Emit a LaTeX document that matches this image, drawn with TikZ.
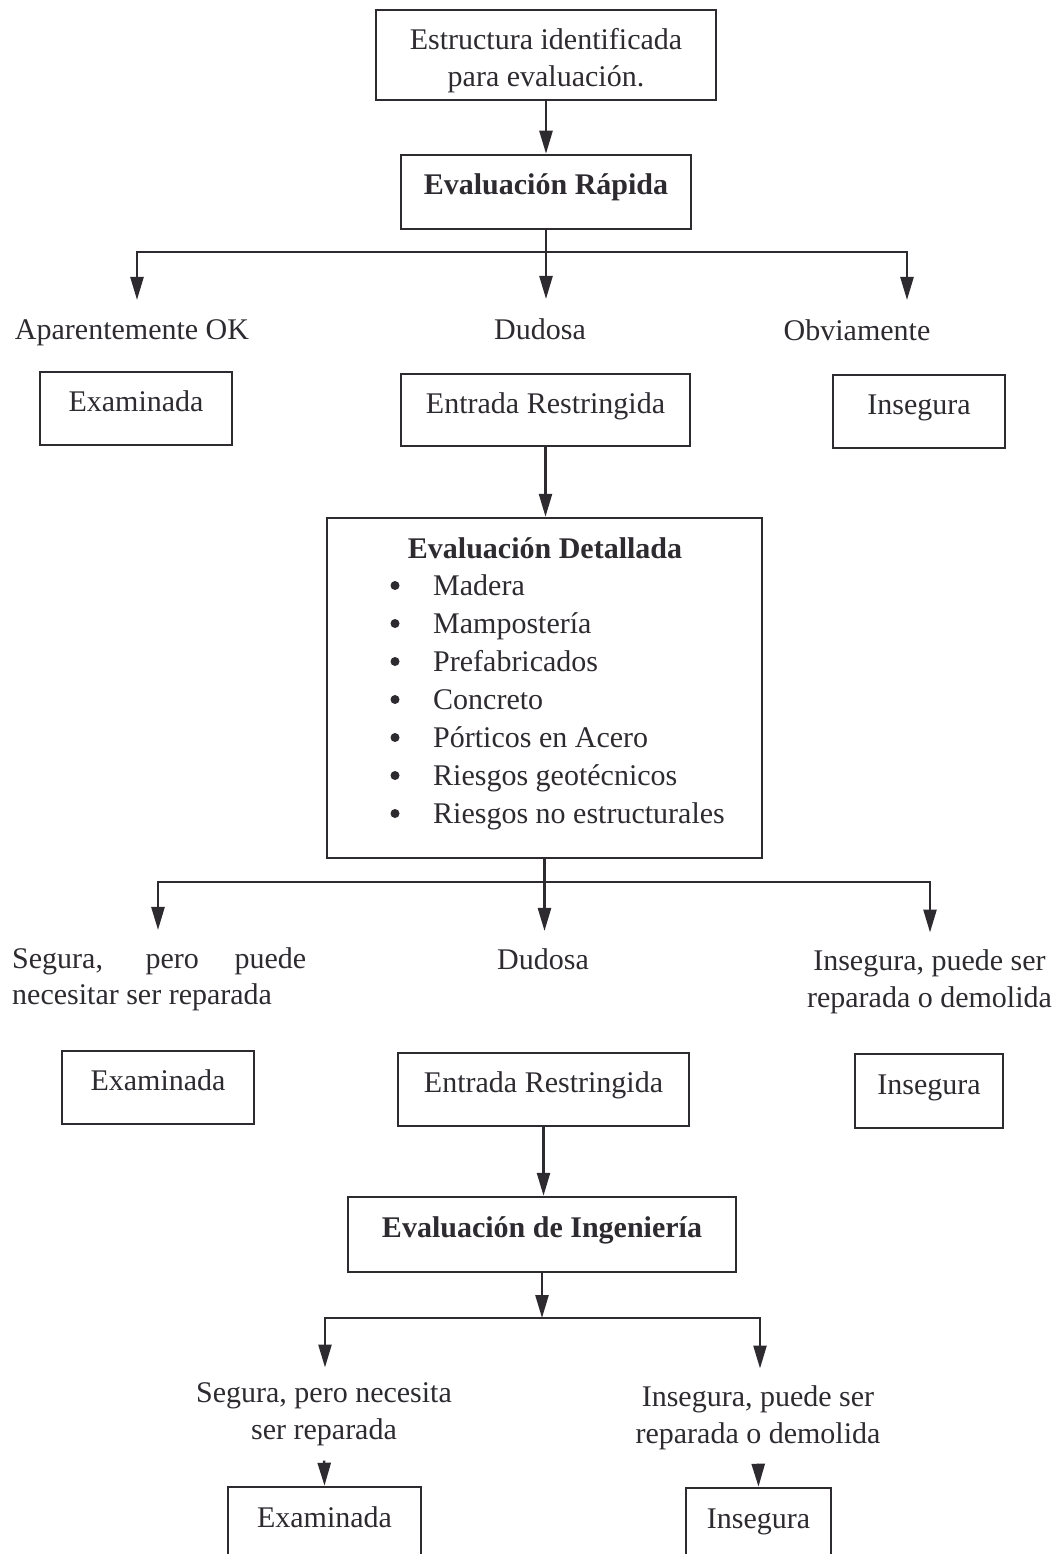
\documentclass[tikz,border=0pt]{standalone}
\usepackage{fontspec}
\setmainfont{Liberation Serif}
\usetikzlibrary{arrows.meta}

\definecolor{tinta}{RGB}{45,42,48}
\tikzset{
  caja/.style={draw=tinta, line width=2.5pt, text=tinta, minimum height=73pt,
    text height=20pt, text depth=14pt, inner sep=0pt},
  etiqueta/.style={text=tinta, inner sep=0pt, anchor=base},
  vineta/.style={circle, fill=tinta, minimum size=9pt, inner sep=0pt},
  negrita/.style={font=\fontsize{30}{36.5}\selectfont\bfseries},
  flecha/.style={draw=tinta, line width=2.5pt, -{Triangle[length=23pt,width=13pt]}},
  linea/.style={draw=tinta, line width=2.5pt, line cap=rect},
}

\begin{document}
\begin{tikzpicture}[x=1pt, y=-1pt, font=\fontsize{30}{36.5}\selectfont]
  \useasboundingbox (0,0) rectangle (1059,1554);
  \clip (0,0) rectangle (1059,1554);

  % primera parte
  \node[draw=tinta, line width=2.5pt, text=tinta, minimum width=340pt, minimum height=90pt,
        align=center] (estructura) at (546,55)
        {\rule{0pt}{32pt}Estructura identificada\\para evaluación.};
  \node[caja, negrita, minimum width=290pt, minimum height=74pt] (rapida) at (546,192) {Evaluación Rápida};
  \draw[flecha] (estructura) -- (rapida);

  \coordinate (j1a) at (137,252);
  \coordinate (j1b) at (907,252);
  \node[etiqueta] (ok1) at (132,339) {Aparentemente OK};
  \node[etiqueta] (dud1) at (540,339) {Dudosa};
  \node[etiqueta] (obv1) at (857,340) {Obviamente};
  \draw[linea] (rapida.south) -- (rapida.south |- j1a);
  \draw[linea] (j1a) -- (j1b);
  \draw[flecha, shorten >=19pt] (j1a) -- (j1a |- ok1.north);
  \draw[flecha, shorten >=19pt] (rapida.south |- j1a) -- (rapida.south |- dud1.north);
  \draw[flecha, shorten >=19pt] (j1b) -- (j1b |- obv1.north);

  \node[caja, minimum width=192pt] (exam1) at (136,408.5) {Examinada};
  \node[caja, minimum width=289pt, minimum height=72pt] (entr1) at (545.5,410) {Entrada Restringida};
  \node[caja, minimum width=172pt] (inse1) at (919,411.5) {Insegura};

  % evaluacion detallada
  \node[draw=tinta, line width=2.5pt, minimum width=435pt, minimum height=340pt] (detallada) at (544.5,688) {};
  \draw[flecha] (entr1.south) -- (entr1.south |- detallada.north);
  \node[etiqueta, negrita] (titulo) at (545,558) {Evaluación Detallada};
  \foreach \tipo [count=\i] in {Madera, Mampostería, Prefabricados, Concreto,
      Pórticos en Acero, Riesgos geotécnicos, Riesgos no estructurales} {
    \node[vineta] at (395,{585.5+38*(\i-1)}) {};
    \node[etiqueta, anchor=base west] (tipo\i) at (433,{595+38*(\i-1)}) {\tipo};
  }

  \coordinate (j2a) at (158,882);
  \coordinate (j2b) at (930,882);
  \node[etiqueta, anchor=base west, text width=294pt, align=justify] (seg2) at (12,968)
       {Segura, pero puede\linebreak necesitar ser reparada};
  \node[etiqueta] (dud2) at (543,969) {Dudosa};
  \node[etiqueta, anchor=north, align=center] (ins2) at (929.5,949.5)
       {Insegura, puede ser\\reparada o demolida};
  \draw[linea] (detallada.south) -- (detallada.south |- j2a);
  \draw[linea] (j2a) -- (j2b);
  \draw[flecha, shorten >=17pt] (j2a) -- (j2a |- seg2.north);
  \draw[flecha, shorten >=17pt] (detallada.south |- j2a) -- (detallada.south |- dud2.north);
  \draw[flecha, shorten >=17pt] (j2b) -- (j2b |- ins2.north);

  \node[caja, minimum width=192pt] (exam2) at (158,1087.5) {Examinada};
  \node[caja, minimum width=291pt] (entr2) at (543.5,1089.5) {Entrada Restringida};
  \node[caja, minimum width=148pt, minimum height=74pt] (inse2) at (929,1091) {Insegura};

  % evaluacion de ingenieria
  \node[caja, negrita, minimum width=388pt, minimum height=75pt] (ing) at (542,1234.5) {Evaluación de Ingeniería};
  \draw[flecha] (entr2.south) -- (entr2.south |- ing.north);

  \coordinate (j3a) at (325,1318);
  \coordinate (j3b) at (760,1318);
  \node[etiqueta, anchor=north, align=center] (seg3) at (324,1382.5)
       {Segura, pero necesita\\ser reparada};
  \node[etiqueta, anchor=north, align=center] (ins3) at (758,1385.5)
       {Insegura, puede ser\\reparada o demolida};
  \draw[flecha] (ing.south) -- (ing.south |- j3a);
  \draw[linea] (j3a) -- (j3b);
  \draw[flecha, shorten >=15pt] (j3a) -- (j3a |- seg3.north);
  \draw[flecha, shorten >=17pt] (j3b) -- (j3b |- ins3.north);

  \node[caja, minimum width=193pt, minimum height=74pt] (exam3) at (324.5,1524) {Examinada};
  \node[caja, minimum width=145pt, minimum height=74pt] (inse3) at (758.5,1525) {Insegura};
  \draw[flecha, shorten <=15pt] (seg3.south) -- (exam3.north);
  \draw[flecha, shorten <=14pt] (ins3.south) -- (inse3.north);
\end{tikzpicture}
\end{document}
